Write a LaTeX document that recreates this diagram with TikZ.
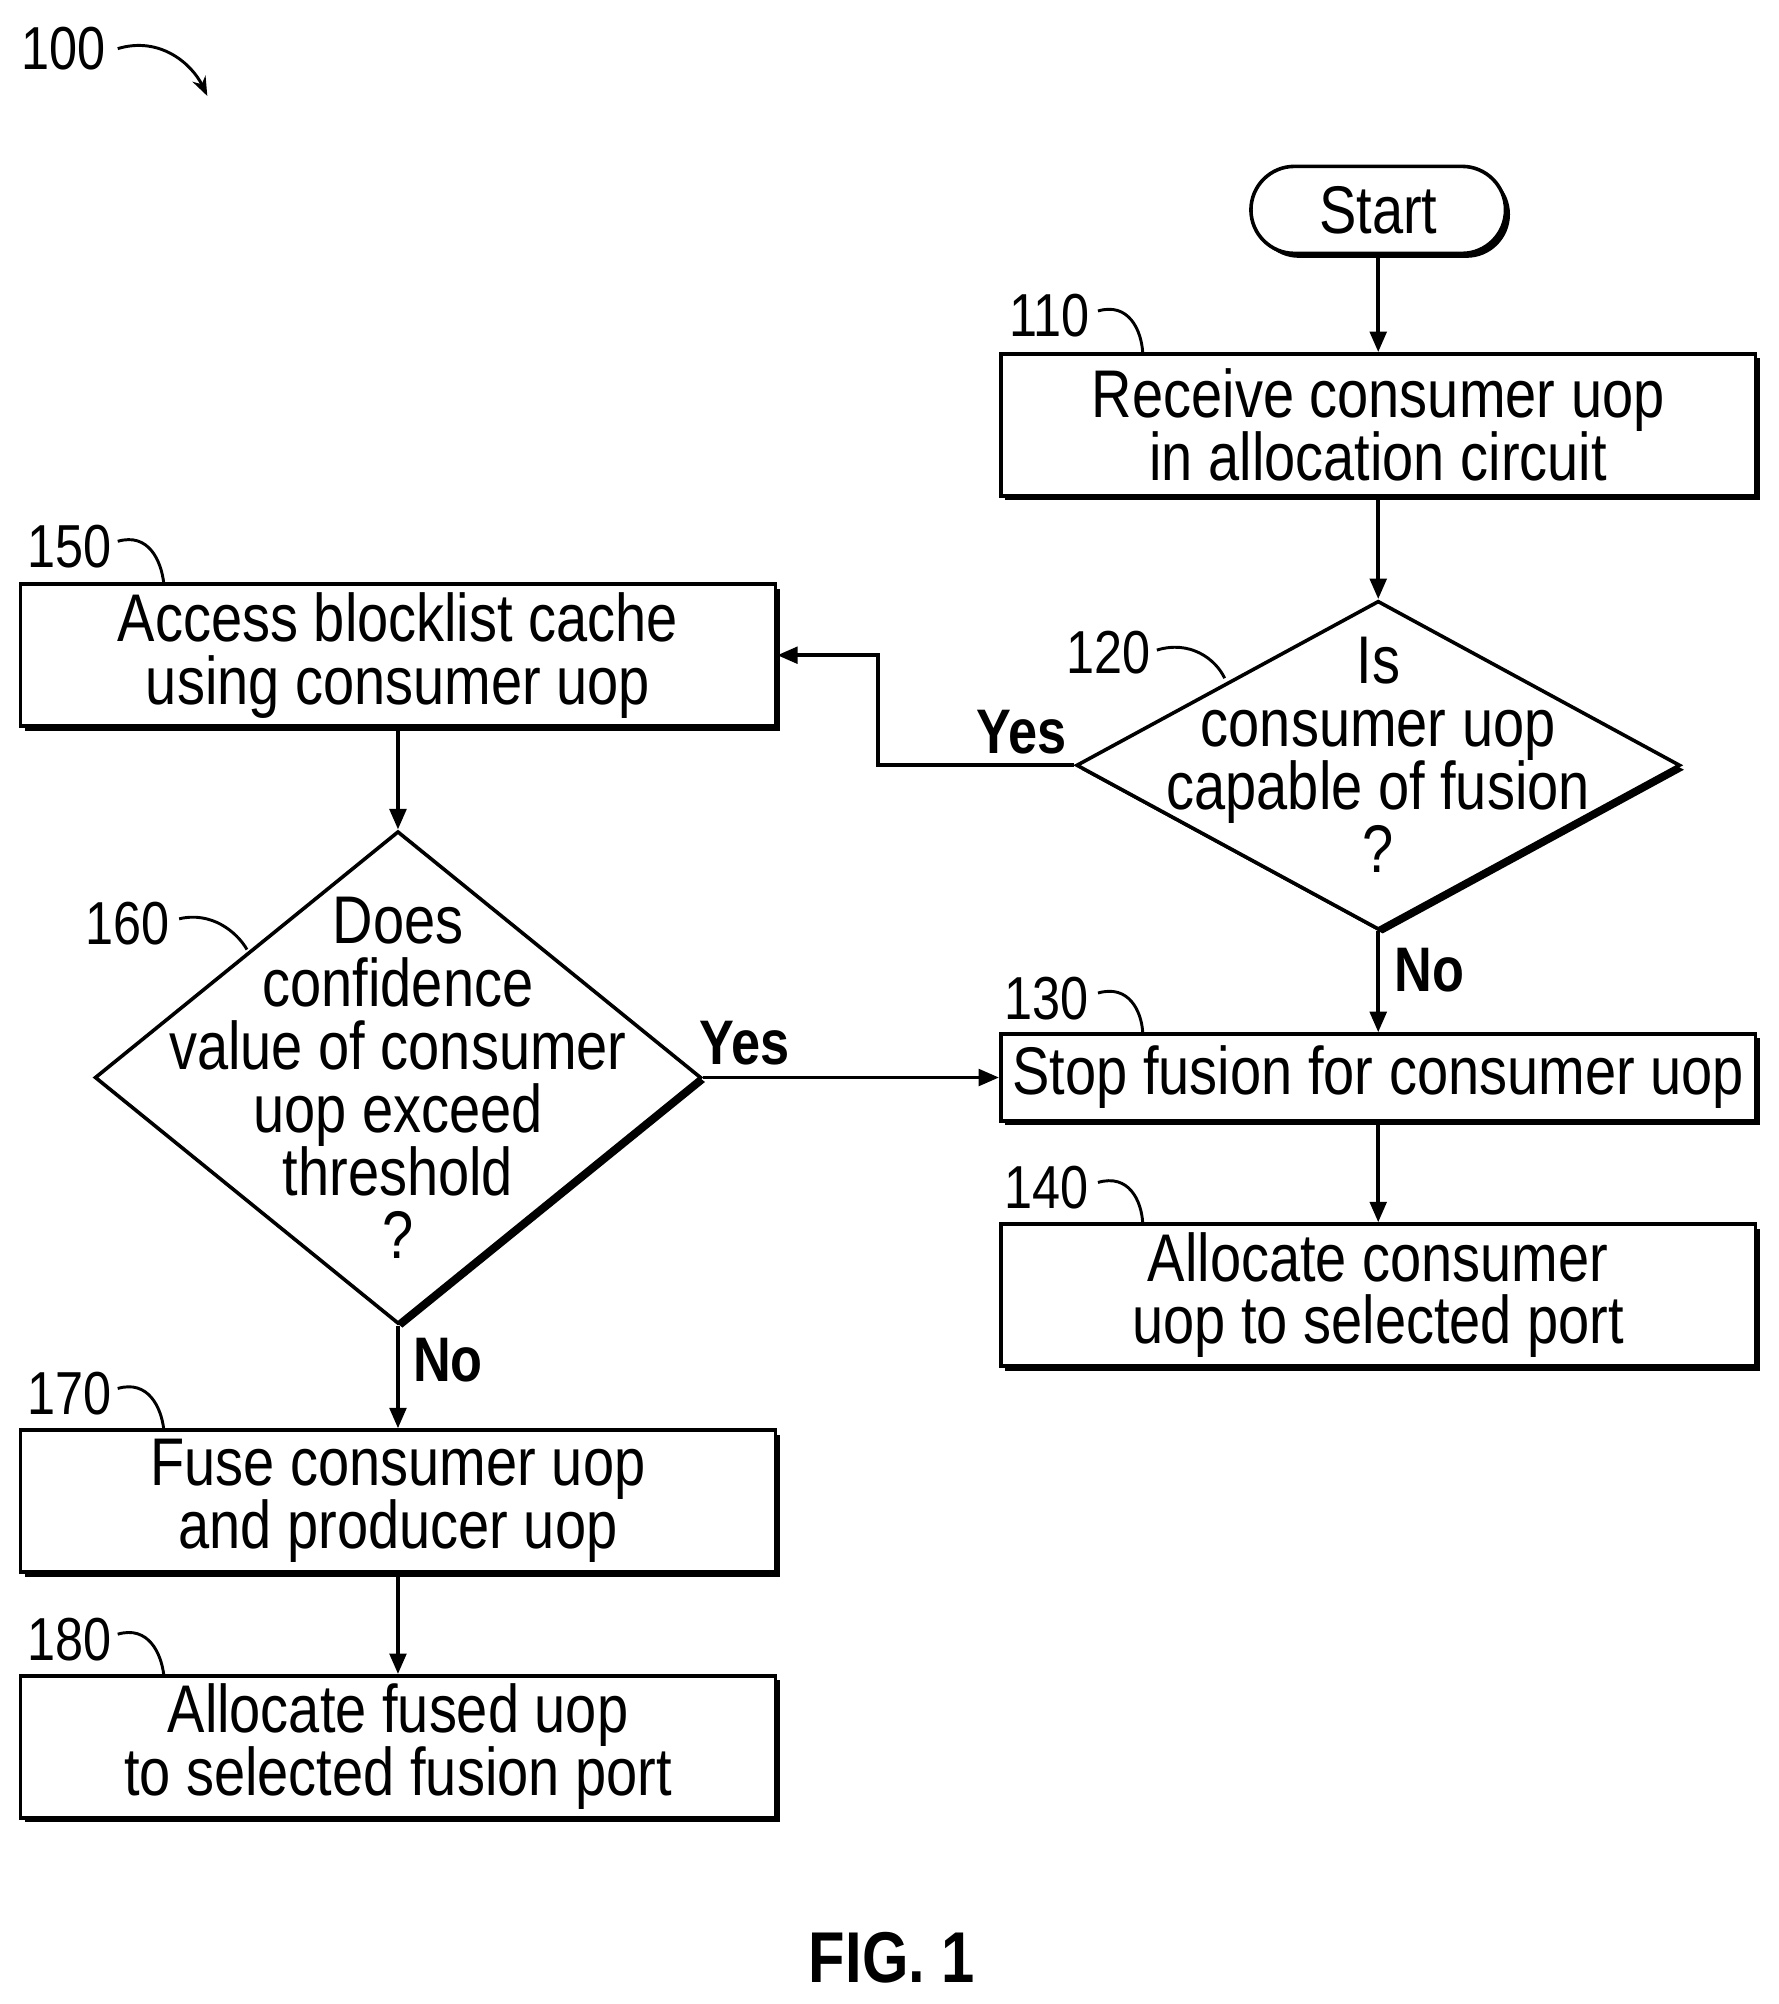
\documentclass[tikz,border=0pt]{standalone}
\usepackage{fontspec}
\setmainfont{Liberation Sans}[FakeStretch=0.83]
\usetikzlibrary{shapes.geometric,shapes.misc,shadows,arrows.meta}
\begin{document}
\begin{tikzpicture}[x=0.02cm,y=-0.02cm,
 every node/.style={font=\fontsize{30}{28}\selectfont},
 sh/.style={draw,line width=1.6pt,fill=white,drop shadow={shadow xshift=0.07cm,shadow yshift=-0.07cm,fill=black,opacity=1}},
 box/.style={sh,rectangle,minimum width=11.8cm,minimum height=2.22cm,inner sep=0},
 dia/.style={sh,diamond,inner sep=0},
 txt/.style={align=center,inner sep=0},
 lab/.style={font=\fontsize{27}{28}\selectfont,inner sep=0},
 yn/.style={font=\fontsize{28}{28}\selectfont\bfseries,inner sep=0},
 arr/.style={line width=1.6pt,-{Triangle[length=0.32cm,width=0.26cm]}},
 sq/.style={line width=1.3pt}]
\useasboundingbox (0,0) rectangle (1390,1566);
\node[sh,rounded rectangle,minimum width=3.98cm,minimum height=1.36cm,inner sep=0] (st) at (1077,164) {};
\node[txt] at (st) {Start};
\node[box] (b110) at (1077,332) {};
\node[txt] at (b110) {Receive consumer uop\\in allocation circuit};
\node[dia,minimum width=9.44cm,minimum height=5.14cm] (d120) at (1077,598) {};
\node[txt] at (1077,590) {Is\\consumer uop\\capable of fusion\\?};
\node[box] (b150) at (311,512) {};
\node[txt] at (b150) {Access blocklist cache\\using consumer uop};
\node[dia,minimum width=9.48cm,minimum height=7.7cm] (d160) at (311,842) {};
\node[txt] at (311,842) {Does\\confidence\\value of consumer\\uop exceed\\threshold\\?};
\node[box,minimum height=1.36cm] (b130) at (1077,842) {};
\node[txt] at (b130) {Stop fusion for consumer uop};
\node[box] (b140) at (1077,1012) {};
\node[txt] at (b140) {Allocate consumer\\uop to selected port};
\node[box] (b170) at (311,1173) {};
\node[txt] at (b170) {Fuse consumer uop\\and producer uop};
\node[box] (b180) at (311,1365) {};
\node[txt] at (b180) {Allocate fused uop\\to selected fusion port};

\draw[arr] (st) -- (b110);
\draw[arr] (b110) -- (d120.north);
\draw[arr] (d120.west) -- (686,598) |- (b150.east);
\draw[arr] (d120.south) -- (b130.north);
\draw[arr] (b150) -- (d160.north);
\draw[arr] (d160.east) -- (b130.west);
\draw[arr] (b130) -- (b140);
\draw[arr] (d160.south) -- (b170.north);
\draw[arr] (b170) -- (b180);

\node[yn] (y1) at (798,572) {Yes};
\node[yn] (n1) at (1117,758) {No};
\node[yn] (y2) at (582,815) {Yes};
\node[yn] (n2) at (350,1063) {No};

\node[lab] (l100) at (50,38) {100};
\draw[sq,-{Stealth[length=0.3cm]}] (92,38) .. controls (125,28) and (150,50) .. (162,75);
\node[lab] (l110) at (820,247) {110};
\draw[sq] (858,243) .. controls (882,236) and (892,258) .. (893,276);
\node[lab] (l120) at (866,510) {120};
\draw[sq] (904,508) .. controls (930,500) and (950,515) .. (957,530);
\node[lab] (l150) at (54,427) {150};
\draw[sq] (92,423) .. controls (116,416) and (126,438) .. (128,456);
\node[lab] (l160) at (100,722) {160};
\draw[sq] (140,718) .. controls (165,712) and (185,728) .. (193,742);
\node[lab] (l130) at (818,780) {130};
\draw[sq] (858,776) .. controls (882,769) and (892,790) .. (893,807);
\node[lab] (l140) at (818,928) {140};
\draw[sq] (858,924) .. controls (882,917) and (892,938) .. (893,956);
\node[lab] (l170) at (54,1089) {170};
\draw[sq] (92,1085) .. controls (116,1078) and (126,1100) .. (128,1117);
\node[lab] (l180) at (54,1281) {180};
\draw[sq] (92,1277) .. controls (116,1270) and (126,1292) .. (128,1309);
\node[font=\fontsize{32}{32}\selectfont\bfseries,inner sep=0] (fig) at (697,1530) {FIG. 1};
\end{tikzpicture}
\end{document}
